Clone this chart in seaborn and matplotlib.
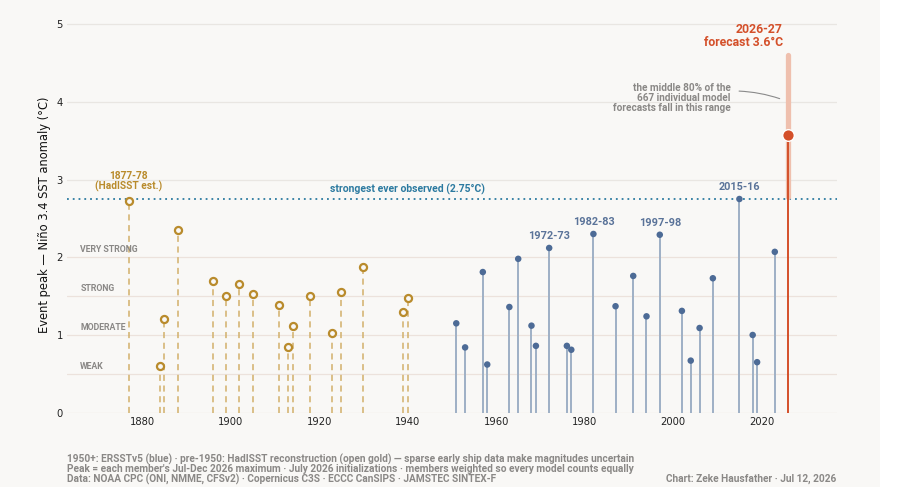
import seaborn as sns
import pandas as pd
import matplotlib.pyplot as plt
from matplotlib.patches import Rectangle

# data
pre_years = [1877, 1884, 1885, 1888, 1896, 1899, 1902, 1905, 1911, 1913, 1914,
             1918, 1923, 1925, 1930, 1939, 1940]
pre_peaks = [2.73, 0.60, 1.20, 2.35, 1.69, 1.50, 1.65, 1.53, 1.39, 0.85, 1.12,
             1.50, 1.02, 1.55, 1.87, 1.30, 1.47]

obs_years = [1951, 1953, 1957, 1958, 1963, 1965, 1968, 1969, 1972, 1976, 1977,
             1982, 1987, 1991, 1994, 1997, 2002, 2004, 2006, 2009, 2015, 2018,
             2019, 2023]
obs_peaks = [1.15, 0.84, 1.81, 0.62, 1.36, 1.98, 1.12, 0.86, 2.12, 0.86, 0.81,
             2.30, 1.37, 1.76, 1.24, 2.29, 1.31, 0.67, 1.09, 1.73, 2.75, 1.00,
             0.65, 2.07]

labelled_events = {1972: "1972-73", 1982: "1982-83", 1997: "1997-98", 2015: "2015-16"}

fc_year = 2026
fc_peak = 3.57
fc_low, fc_high = 2.78, 4.60

record = 2.75
thresholds = [0.5, 1.0, 1.5, 2.0]
strength_names = ["WEAK", "MODERATE", "STRONG", "VERY STRONG"]

GOLD = "#b98b2c"
GOLD_STEM = "#d2b06a"
BLUE = "#4d6b96"
BLUE_STEM = "#9eb0c5"
RED = "#d4502a"
RED_BAND = "#efc0ae"
TEAL = "#2c7aa0"
GREY = "#8a8886"
BG = "#f9f8f6"

pre = pd.DataFrame({"year": pre_years, "peak": pre_peaks})
obs = pd.DataFrame({"year": obs_years, "peak": obs_peaks})

sns.set_theme(style="white")
plt.rcParams['font.family'] = ['DejaVu Sans']
BOLD = ['Roboto', 'DejaVu Sans']

fig = plt.figure(figsize=(9, 4.87), dpi=100, facecolor=BG)
fig.patches.append(Rectangle((880 / 900, 0), 20 / 900, 1, transform=fig.transFigure,
                             facecolor="white", edgecolor="none", zorder=-5))
ax = fig.add_axes([0.0744, 0.1526, 0.8553, 0.8137])
ax.set_facecolor(BG)

# gridlines
for y in [3, 4, 5]:
    ax.axhline(y, color="#e9e6e2", lw=0.9, zorder=0)
for y in [0] + thresholds:
    ax.axhline(y, color="#ece2dc", lw=0.9, zorder=0)
for y, name in zip(thresholds, strength_names):
    ax.text(1866, y + 0.04, name, fontsize=6.3, fontweight="bold", color=GREY,
            family=BOLD, va="bottom", ha="left")

# record line
ax.axhline(record, color=TEAL, lw=1.3, ls=(0, (1, 2.2)), zorder=1)
ax.text(1940, record + 0.05, "strongest ever observed (2.75°C)", color=TEAL,
        fontsize=7.5, fontweight="bold", family=BOLD, ha="center", va="bottom")

# pre-1950 reconstruction
ax.vlines(pre["year"], 0, pre["peak"] - 0.06, color=GOLD_STEM, lw=1.1,
          linestyles=(0, (4, 3)), zorder=2)
sns.scatterplot(data=pre, x="year", y="peak", ax=ax, s=26, marker="o",
                facecolor=BG, edgecolor=GOLD, linewidth=1.6, zorder=3)
ax.annotate("1877-78\n(HadISST est.)", (1877, 2.73), xytext=(0, 6),
            textcoords="offset points", ha="center", va="bottom", color=GOLD,
            fontsize=7.3, fontweight="bold", family=BOLD, linespacing=1.0)

# observed events
ax.vlines(obs["year"], 0, obs["peak"], color=BLUE_STEM, lw=1.4, zorder=2)
sns.scatterplot(data=obs, x="year", y="peak", ax=ax, s=22, color=BLUE,
                edgecolor="none", zorder=3)
for yr, lab in labelled_events.items():
    pk = obs.loc[obs["year"] == yr, "peak"].iloc[0]
    ax.annotate(lab, (yr, pk), xytext=(0, 5), textcoords="offset points",
                ha="center", va="bottom", color="#5a7399", fontsize=7.8,
                fontweight="bold", family=BOLD)

# forecast
ax.plot([fc_year, fc_year], [fc_low, fc_high], color=RED_BAND, lw=3.8,
        solid_capstyle="round", zorder=3)
ax.vlines(fc_year, 0, fc_peak, color=RED, lw=1.4, zorder=4)
sns.scatterplot(x=[fc_year], y=[fc_peak], ax=ax, s=70, color=RED,
                edgecolor="white", linewidth=1.0, zorder=5)
ax.text(2024.8, 4.68, "2026-27\nforecast 3.6°C", color=RED, fontsize=8.8,
        fontweight="bold", family=BOLD, ha="right", va="bottom", linespacing=1.0)
ax.text(2013.0, 4.05, "the middle 80% of the\n667 individual model\nforecasts fall in this range",
        color=GREY, fontsize=7.2, fontweight="bold", family=BOLD, ha="right",
        va="center", linespacing=1.0)
ax.annotate("", xy=(2024.7, 4.03), xytext=(2014.3, 4.14),
            arrowprops=dict(arrowstyle="-", color="#8a8a8a", lw=0.8,
                            connectionstyle="arc3,rad=-0.08"))

ax.set_xlim(1863, 2037)
ax.set_ylim(0, 5.1)
ax.set_xticks([1880, 1900, 1920, 1940, 1960, 1980, 2000, 2020])
ax.set_yticks([0, 1, 2, 3, 4, 5])
ax.tick_params(axis="both", labelsize=7.2, colors="#222222", length=0, pad=3)
ax.set_xlabel("")
ax.set_ylabel("Event peak — Niño 3.4 SST anomaly (°C)", fontsize=8.3, color="#111111",
              labelpad=4)
sns.despine(ax=ax, left=True, bottom=True)

# footer
notes = ["1950+: ERSSTv5 (blue) · pre-1950: HadISST reconstruction (open gold) — sparse early ship data make magnitudes uncertain",
         "Peak = each member's Jul-Dec 2026 maximum · July 2026 initializations · members weighted so every model counts equally",
         "Data: NOAA CPC (ONI, NMME, CFSv2) · Copernicus C3S · ECCC CanSIPS · JAMSTEC SINTEX-F"]
for i, line in enumerate(notes):
    fig.text(0.0744, 0.0575 - i * 0.0205, line, fontsize=7.3, fontweight="bold",
             family=BOLD, color=GREY, ha="left", va="center")
fig.text(0.9297, 0.0164, "Chart: Zeke Hausfather · Jul 12, 2026", fontsize=7.3,
         fontweight="bold", family=BOLD, color=GREY, ha="right", va="center")

fig.savefig("out.png", dpi=100, facecolor=BG)
